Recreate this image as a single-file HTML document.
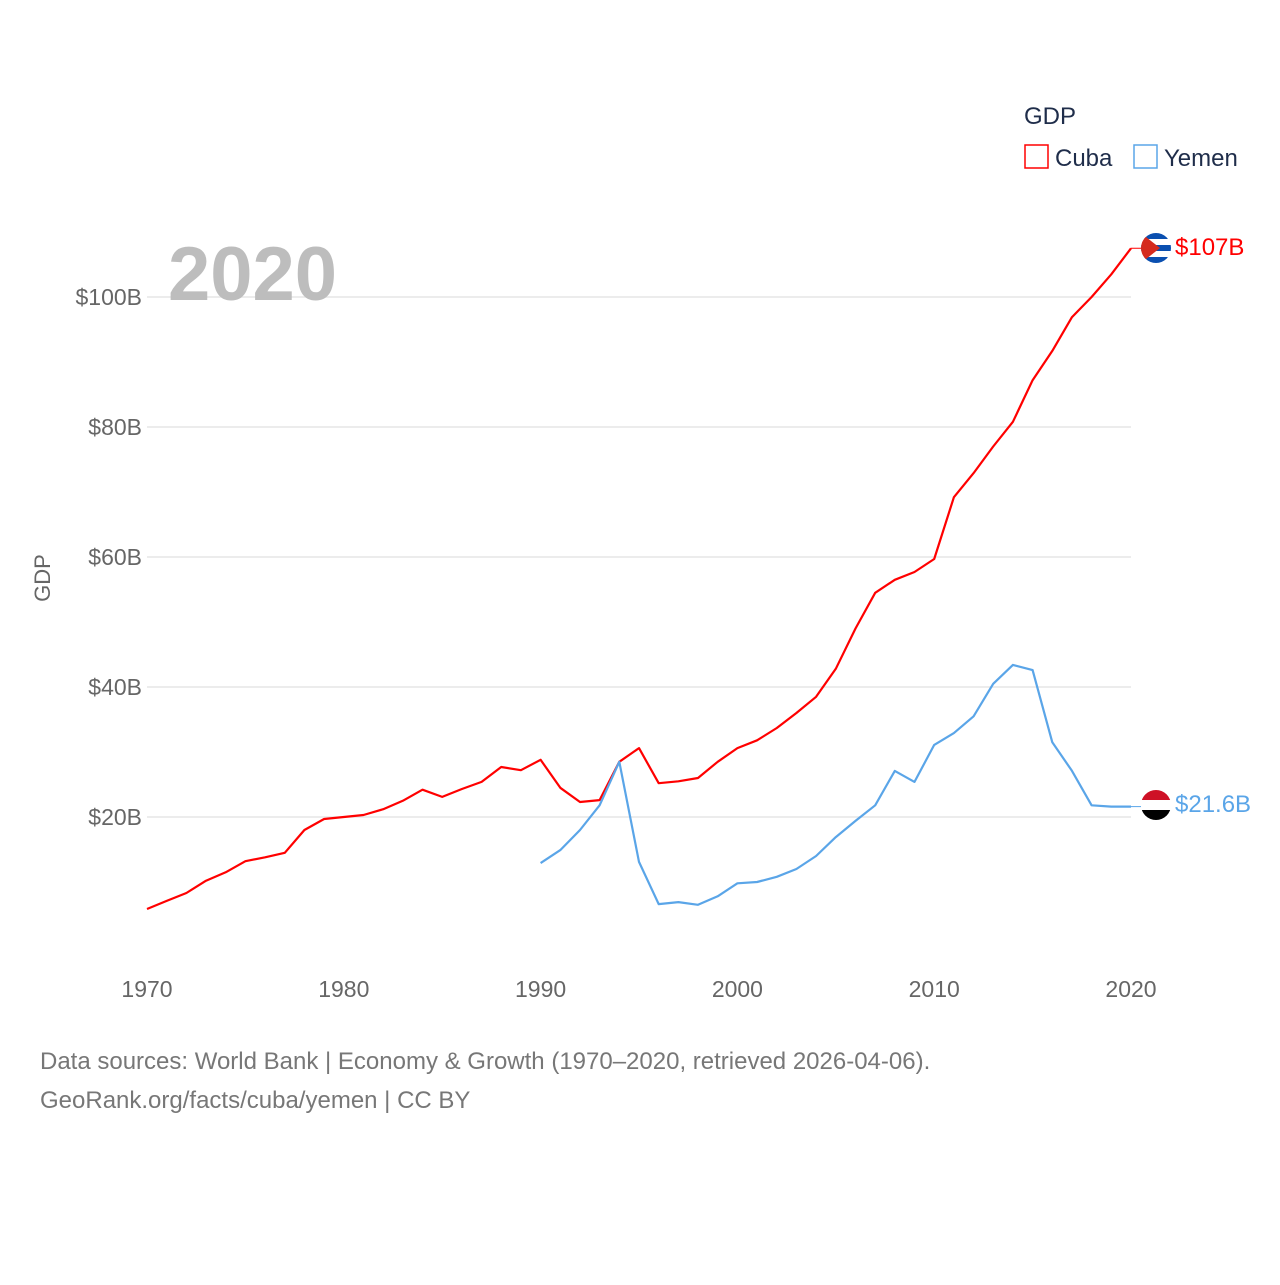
<!DOCTYPE html>
<html><head><meta charset="utf-8"><style>
body{margin:0;background:#fff;font-family:"Liberation Sans",sans-serif}
svg text{font-family:"Liberation Sans",sans-serif}
</style></head><body>
<svg id="chart" width="1280" height="1280" viewBox="0 0 1280 1280">
<g id="grid"></g>
<text x="168" y="300" font-size="76" font-weight="bold" fill="#bdbdbd">2020</text>
<text transform="translate(50,578) rotate(-90)" text-anchor="middle" font-size="22" fill="#666">GDP</text>
<g>
<text x="1024" y="124" font-size="24" fill="#1f2d4a">GDP</text>
<g><rect x="1025" y="145" width="23" height="23" fill="none" stroke="#ff0000" stroke-width="1.5"/><text x="1055" y="166" font-size="24" fill="#1f2d4a">Cuba</text></g>
<g><rect x="1134" y="145" width="23" height="23" fill="none" stroke="#5aa5e8" stroke-width="1.5"/><text x="1164" y="166" font-size="24" fill="#1f2d4a">Yemen</text></g>
</g>
<g id="series"></g>
<g>
<clipPath id="c1"><circle cx="1156" cy="248" r="15"/></clipPath>
<g clip-path="url(#c1)"><rect x="1141" y="233" width="30" height="30" fill="#fff"/><rect x="1141" y="233" width="30" height="6" fill="#0a4fb0"/><rect x="1141" y="245" width="30" height="6" fill="#0a4fb0"/><rect x="1141" y="257" width="30" height="6" fill="#0a4fb0"/><polygon points="1141,233 1160,248 1141,263" fill="#d52b1e"/></g>
</g>
<g>
<clipPath id="c2"><circle cx="1156" cy="805" r="15"/></clipPath>
<g clip-path="url(#c2)"><rect x="1141" y="790" width="30" height="10" fill="#ce1126"/><rect x="1141" y="800" width="30" height="10" fill="#fff"/><rect x="1141" y="810" width="30" height="10" fill="#000"/></g>
</g>
<text x="1175" y="255" font-size="24" fill="#ff0000">$107B</text>
<text x="1175" y="812" font-size="24" fill="#5aa5e8">$21.6B</text>
<text x="40" y="1069" font-size="24" fill="#777">Data sources: World Bank | Economy &amp; Growth (1970–2020, retrieved 2026-04-06).</text>
<text x="40" y="1108" font-size="24" fill="#777">GeoRank.org/facts/cuba/yemen | CC BY</text>
</svg>
<script>
const yTicks=[20,40,60,80,100];
const xTicks=[1970,1980,1990,2000,2010,2020];
const cubaYears=[];for(let y=1970;y<=2020;y++)cubaYears.push(y);
const cubaValues=[5.85,7.1,8.3,10.2,11.5,13.2,13.8,14.5,18,19.7,20,20.3,21.2,22.5,24.2,23.1,24.3,25.4,27.7,27.2,28.8,24.5,22.3,22.6,28.5,30.6,25.2,25.5,26,28.5,30.6,31.8,33.7,36,38.5,42.8,49,54.5,56.5,57.7,59.7,69.2,72.9,77,80.8,87.2,91.7,96.9,100,103.5,107.5];
const yemenYears=[];for(let y=1990;y<=2020;y++)yemenYears.push(y);
const yemenValues=[12.9,14.9,18,21.8,28.5,13.1,6.6,6.9,6.5,7.8,9.8,10,10.8,12,14,16.9,19.4,21.8,27.1,25.4,31.1,32.9,35.5,40.5,43.4,42.6,31.5,27.1,21.8,21.6,21.6];
const xs=yr=>147+(yr-1970)*(1131-147)/50;
const ys=v=>947-v*6.5;
const NS="http://www.w3.org/2000/svg";
const grid=document.getElementById('grid');
yTicks.forEach(t=>{
 const l=document.createElementNS(NS,'line');
 l.setAttribute('x1',147);l.setAttribute('x2',1131);l.setAttribute('y1',ys(t));l.setAttribute('y2',ys(t));
 l.setAttribute('stroke','#e6e6e6');l.setAttribute('stroke-width','1.5');
 
 
 grid.appendChild(l);
 const tx=document.createElementNS(NS,'text');
 tx.setAttribute('x',142);tx.setAttribute('y',ys(t)+8);tx.setAttribute('text-anchor','end');
 tx.setAttribute('font-size','23');tx.setAttribute('fill','#666');tx.textContent='$'+t+'B';
 
 
 grid.appendChild(tx);
});
xTicks.forEach(t=>{
 const tx=document.createElementNS(NS,'text');
 tx.setAttribute('x',xs(t));tx.setAttribute('y',997);tx.setAttribute('text-anchor','middle');
 tx.setAttribute('font-size','23');tx.setAttribute('fill','#666');tx.textContent=t;
 
 
 grid.appendChild(tx);
});
const ser=document.getElementById('series');
function line(years,vals,color,name,endX){
 let d=years.map((y,i)=>(i?'L':'M')+xs(y).toFixed(1)+','+ys(vals[i]).toFixed(1)).join(' ');
 const p=document.createElementNS(NS,'path');
 p.setAttribute('d',d);p.setAttribute('fill','none');p.setAttribute('stroke',color);p.setAttribute('stroke-width','2.2');p.setAttribute('stroke-linejoin','round');
 
 
 ser.appendChild(p);
 const last=vals[vals.length-1];
 const c=document.createElementNS(NS,'line');
 c.setAttribute('x1',xs(years[years.length-1]));c.setAttribute('x2',endX);c.setAttribute('y1',ys(last));c.setAttribute('y2',ys(last));
 c.setAttribute('stroke',color);c.setAttribute('stroke-width','1');
 
 
 ser.appendChild(c);
}
line(cubaYears,cubaValues,'#ff0000','cuba-line',1141);
line(yemenYears,yemenValues,'#5aa5e8','yemen-line',1141);
</script>
</body></html>
